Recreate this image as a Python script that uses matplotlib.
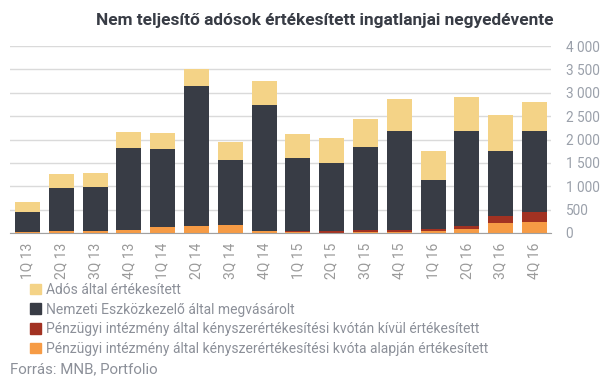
import numpy as np
import matplotlib
matplotlib.use('Agg')
import matplotlib.pyplot as plt
from matplotlib.patches import Patch
from matplotlib.ticker import FuncFormatter

plt.rcParams['font.family'] = ['Roboto', 'DejaVu Sans']

# negyedévek
quarters = ['1Q 13', '2Q 13', '3Q 13', '4Q 13', '1Q 14', '2Q 14', '3Q 14', '4Q 14',
            '1Q 15', '2Q 15', '3Q 15', '4Q 15', '1Q 16', '2Q 16', '3Q 16', '4Q 16']

# kvóta alapján (narancs)
kvota = [30, 43, 43, 64, 128, 150, 171, 43, 20, 8, 21, 21, 43, 78, 207, 228]
# kvótán kívül (piros)
kvotan_kivul = [0, 0, 0, 0, 0, 0, 0, 0, 23, 35, 43, 43, 35, 72, 157, 221]
# Nemzeti Eszközkezelő (sötét)
nemzeti = [412, 912, 934, 1747, 1662, 2987, 1383, 2688, 1554, 1447, 1768, 2111, 1049, 2025, 1383, 1726]
# adós által (sárga)
ados = [214, 300, 299, 342, 342, 364, 385, 513, 513, 535, 599, 684, 620, 727, 770, 620]

labels = ['Adós által értékesített',
          'Nemzeti Eszközkezelő által megvásárolt',
          'Pénzügyi intézmény által kényszerértékesítési kvótán kívül értékesített',
          'Pénzügyi intézmény által kényszerértékesítési kvóta alapján értékesített']
colors = ['#F4D387', '#383C45', '#A23222', '#F69B45']

fig = plt.figure(figsize=(6.05, 3.78), dpi=100)
ax = fig.add_axes([10 / 605, 1 - 233 / 378, 541 / 605, 187 / 378])

x = np.arange(len(quarters))
w = 0.74
b1 = np.array(kvota)
b2 = b1 + np.array(kvotan_kivul)
b3 = b2 + np.array(nemzeti)
ax.bar(x, kvota, w, color=colors[3], zorder=2)
ax.bar(x, kvotan_kivul, w, bottom=b1, color=colors[2], zorder=2)
ax.bar(x, nemzeti, w, bottom=b2, color=colors[1], zorder=2)
ax.bar(x, ados, w, bottom=b3, color=colors[0], zorder=2)

ax.set_xlim(-0.52, 15.49)
ax.set_ylim(0, 4000)
ax.set_yticks(np.arange(0, 4001, 500))
ax.yaxis.set_major_formatter(FuncFormatter(lambda v, p: f'{int(v):,}'.replace(',', ' ')))
ax.yaxis.tick_right()
ax.grid(axis='y', color='#DADADA', linewidth=1, zorder=0)
for s in ['top', 'left', 'right']:
    ax.spines[s].set_visible(False)
ax.spines['bottom'].set_color('#A0A0A0')
ax.spines['bottom'].set_zorder(3)

ax.set_xticks(x)
ax.set_xticklabels(quarters, rotation=90, color='#9A9A9A', fontsize=10)
ax.tick_params(axis='x', length=0, pad=7)
ax.tick_params(axis='y', length=0, pad=10.5, labelcolor='#9AA0AA', labelsize=9.8)
for t in ax.get_yticklabels():
    t.set_horizontalalignment('left')

fig.text(0.536, 0.947, 'Nem teljesítő adósok értékesített ingatlanjai negyedévente',
         ha='center', va='center', fontsize=12.4, fontweight='bold', color='#383C45')

handles = [Patch(color=c) for c in colors]
fig.legend(handles, labels, loc='upper left', bbox_to_anchor=(30 / 605, 1 - 283 / 378),
           frameon=False, fontsize=10, labelcolor='#8C9099', handlelength=0.8,
           handleheight=0.8, handletextpad=0.35, labelspacing=0.4, borderpad=0,
           borderaxespad=0)

fig.text(10 / 605, 1 - 369 / 378, 'Forrás: MNB, Portfolio', ha='left', va='center',
         fontsize=10.8, color='#8C9099')

fig.savefig('out.png', dpi=100)
